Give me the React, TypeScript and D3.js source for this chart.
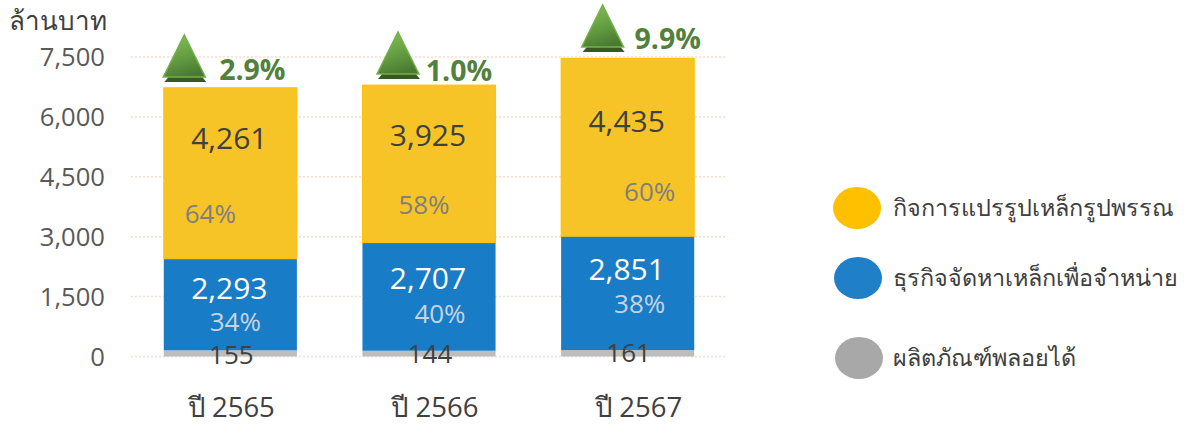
import * as d3 from 'd3'

const YEARS = ['ปี 2565', 'ปี 2566', 'ปี 2567']
const BYPRODUCT = [155, 144, 161]
const TRADING = [2293, 2707, 2851]
const PROCESSING = [4261, 3925, 4435]
const TRADING_PCT = ['34%', '40%', '38%']
const PROCESSING_PCT = ['64%', '58%', '60%']
const GROWTH = ['2.9%', '1.0%', '9.9%']
const Y_TICKS = [0, 1500, 3000, 4500, 6000, 7500]
const LEGEND = ['กิจการแปรรูปเหล็กรูปพรรณ', 'ธุรกิจจัดหาเหล็กเพื่อจำหน่าย', 'ผลิตภัณฑ์พลอยได้']

const WIDTH = 1187
const HEIGHT = 425
const FONT = '"Open Sans", "Noto Sans", sans-serif'

const YELLOW = '#f7c427'
const BLUE = '#187cc6'
const GREY = '#bdbdbd'

// label nudges per bar, the labels in the source sit off-centre by hand
const PROC_LABEL = [{ dx: -1, dy: 48 }, { dx: -1, dy: 48 }, { dx: -1, dy: 61 }]
const PROC_PCT = [{ dx: -20, dy: 125 }, { dx: -5, dy: 119 }, { dx: 22, dy: 133 }]
const TRADE_LABEL = [{ dy: 29 }, { dy: 35 }, { dy: 33 }]
const TRADE_PCT = [{ dx: 5, dy: 63 }, { dx: 11, dy: 71 }, { dx: 12, dy: 68 }]
const BYPRODUCT_Y = [364, 363, 362]
const YEAR_DX = [1, 6, 11]
const ARROW = [{ dx: -46, bottom: 82 }, { dx: -31, bottom: 79 }, { dx: -25, bottom: 52 }]
const GROWTH_POS = [{ dx: 22, y: 70 }, { dx: 30, y: 71 }, { dx: 40, y: 39 }]
const LEGEND_POS = [{ x: 857, y: 208, c: '#ffc000' }, { x: 858, y: 278, c: '#1f80c8' }, { x: 859, y: 358, c: '#a8a8a8' }]

export default function App() {
  const x = d3.scaleBand<string>().domain(YEARS).range([131, 727]).paddingInner(0.33).paddingOuter(0.165)
  const y = d3.scaleLinear().domain([0, 7500]).range([356.5, 57])
  const fmt = d3.format(',')

  const stack = YEARS.map((yr, i) => {
    const a = BYPRODUCT[i]
    const b = a + TRADING[i]
    const c = b + PROCESSING[i]
    return { yr, i, a, b, c, cx: (x(yr) ?? 0) + x.bandwidth() / 2 }
  })

  return (
    <svg
      width={WIDTH}
      height={HEIGHT}
      style={{ position: 'absolute', left: 0, top: 0, fontFamily: FONT }}
    >
      <defs>
        <linearGradient id="tri" x1="0.2" y1="0" x2="0.5" y2="1">
          <stop offset="0" stopColor="#84bf56" />
          <stop offset="0.55" stopColor="#659e42" />
          <stop offset="1" stopColor="#4a7a32" />
        </linearGradient>
      </defs>

      <text x={9} y={30} fontSize={26} fill="#404040">ล้านบาท</text>

      {Y_TICKS.map(t => (
        <g key={t}>
          <line
            x1={131}
            x2={727}
            y1={y(t)}
            y2={y(t)}
            stroke="#fbdccb"
            strokeWidth={1.5}
            strokeDasharray="2 2"
          />
          <text x={105} y={y(t) + 9} textAnchor="end" fontSize={25.6} fill="#595959">
            {fmt(t)}
          </text>
        </g>
      ))}

      {stack.map(s => {
        const left = x(s.yr) ?? 0
        const w = x.bandwidth()
        const top = y(s.c)
        const ar = ARROW[s.i]
        const ax = s.cx + ar.dx
        const apexH = 44
        return (
          <g key={s.yr}>
            <rect x={left} y={y(s.a)} width={w} height={y(0) - y(s.a)} fill={GREY} />
            <rect x={left} y={y(s.b)} width={w} height={y(s.a) - y(s.b)} fill={BLUE} />
            <rect
              x={left}
              y={top - 0.8}
              width={w}
              height={y(s.b) - top + 0.8}
              fill={YELLOW}
              stroke="#ffc000"
              strokeWidth={1}
            />

            <text
              x={s.cx + PROC_LABEL[s.i].dx}
              y={top + PROC_LABEL[s.i].dy + 12}
              textAnchor="middle"
              fontSize={30}
              fill="#404040"
            >
              {fmt(PROCESSING[s.i])}
            </text>
            <text
              x={s.cx + PROC_PCT[s.i].dx}
              y={top + PROC_PCT[s.i].dy + 9}
              textAnchor="middle"
              fontSize={26}
              fill="#7f7f7f"
            >
              {PROCESSING_PCT[s.i]}
            </text>
            <text
              x={s.cx - 1}
              y={y(s.b) + TRADE_LABEL[s.i].dy + 11}
              textAnchor="middle"
              fontSize={30}
              fill="#ffffff"
            >
              {fmt(TRADING[s.i])}
            </text>
            <text
              x={s.cx + TRADE_PCT[s.i].dx}
              y={y(s.b) + TRADE_PCT[s.i].dy + 9}
              textAnchor="middle"
              fontSize={26}
              fill="#c6d4e2"
            >
              {TRADING_PCT[s.i]}
            </text>
            <text x={s.cx + 1} y={BYPRODUCT_Y[s.i]} textAnchor="middle" fontSize={26} fill="#404040">
              {fmt(BYPRODUCT[s.i])}
            </text>

            <text x={s.cx + YEAR_DX[s.i]} y={417} textAnchor="middle" fontSize={27.5} fill="#404040">
              {s.yr}
            </text>

            <polygon
              points={`${ax - 20},${ar.bottom} ${ax + 22},${ar.bottom} ${ax + 17},${ar.bottom - 6} ${ax - 15},${ar.bottom - 6}`}
              fill="#375a22"
            />
            <polygon
              points={`${ax},${ar.bottom - apexH - 3} ${ax + 21},${ar.bottom - 5} ${ax - 21},${ar.bottom - 5}`}
              fill="url(#tri)"
              stroke="#74b04a"
              strokeWidth={1.5}
            />

            <text
              x={s.cx + GROWTH_POS[s.i].dx}
              y={GROWTH_POS[s.i].y + 10}
              textAnchor="middle"
              fontSize={28.5}
              fontWeight={700}
              fill="#53803a"
            >
              {GROWTH[s.i]}
            </text>
          </g>
        )
      })}

      {LEGEND.map((name, i) => (
        <g key={name}>
          <ellipse cx={LEGEND_POS[i].x} cy={LEGEND_POS[i].y} rx={24} ry={21} fill={LEGEND_POS[i].c} />
          <text x={893} y={LEGEND_POS[i].y + 8} fontSize={23.4} fill="#404040">
            {name}
          </text>
        </g>
      ))}
    </svg>
  )
}
